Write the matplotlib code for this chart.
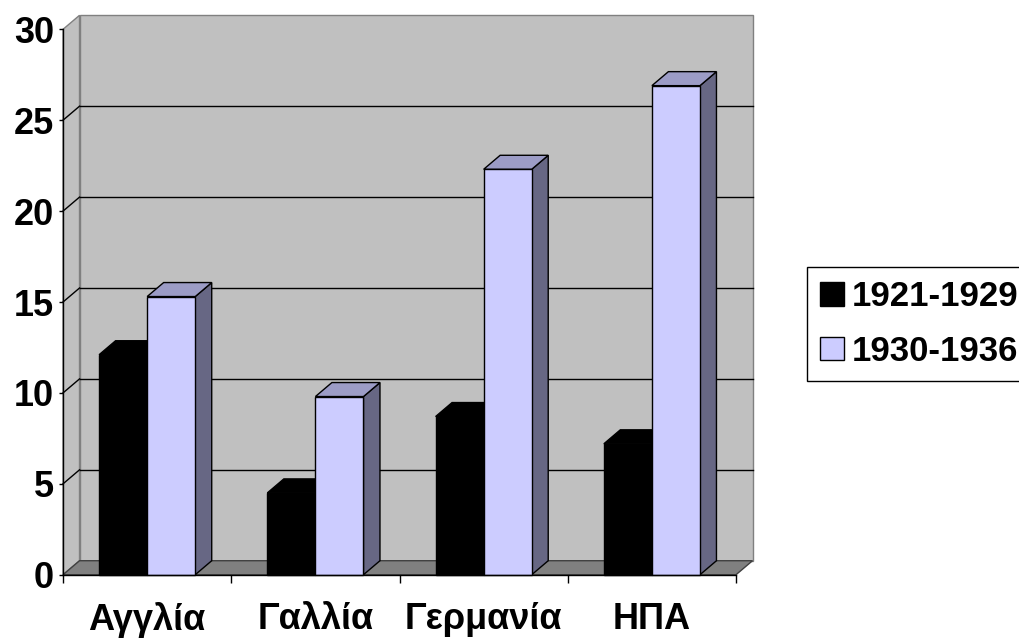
import matplotlib.pyplot as plt
from matplotlib.patches import Polygon, Rectangle, Patch
import numpy as np

countries = ['Αγγλία', 'Γαλλία', 'Γερμανία', 'ΗΠΑ']
periods = ['1921-1929', '1930-1936']
vals_1921_1929 = [12.1, 4.5, 8.7, 7.2]
vals_1930_1936 = [15.3, 9.8, 22.3, 26.9]
y_ticks = [0, 5, 10, 15, 20, 25, 30]

# front, top, side shades for each series
shades = [('#000000', '#000000', '#000000'),
          ('#ccccff', '#9c9cc6', '#676784')]

plt.rcParams['font.family'] = ['Liberation Sans', 'DejaVu Sans']
plt.rcParams['font.weight'] = 'bold'

fig = plt.figure(figsize=(10.2, 6.41), dpi=100)
ax = fig.add_axes([0.0618, 0.1034, 0.6598, 0.8509])
n = len(countries)
ymax = y_ticks[-1]
ax.set_xlim(0, n)
ax.set_ylim(0, ymax)
ax.patch.set_visible(False)

# depth of the 3d box in data units
dx, dy = 0.098, 0.77
wall = '#c0c0c0'
wall_edge = '#808080'

# back wall, side wall, floor
ax.add_patch(Rectangle((dx, dy), n, ymax, fc=wall, ec=wall_edge, lw=1,
                       clip_on=False, zorder=0.5))
ax.add_patch(Polygon([(0, 0), (dx, dy), (dx, ymax + dy), (0, ymax)],
                     fc=wall, ec=wall_edge, lw=1, clip_on=False, zorder=0.6))
ax.add_patch(Polygon([(0, 0), (n, 0), (n + dx, dy), (dx, dy)],
                     fc='#808080', ec='#404040', lw=1, clip_on=False, zorder=0.6))

# gridlines on back and side walls
for v in y_ticks[1:-1]:
    ax.plot([dx, n + dx], [v + dy, v + dy], color='black', lw=1, zorder=0.8,
            clip_on=False)
    ax.plot([0, dx], [v, v + dy], color='black', lw=1, zorder=0.8,
            clip_on=False)

# columns: gap width 150% -> two bars + 1.5 bar of gap per category
w = 1 / 3.5
for s, vals in enumerate([vals_1921_1929, vals_1930_1936]):
    front, top, side = shades[s]
    for i, h in enumerate(vals):
        x0 = i + 0.75 * w + s * w
        z = 1 + i * 0.1 + s * 0.01
        ax.add_patch(Polygon([(x0 + w, 0), (x0 + w + dx, dy),
                              (x0 + w + dx, h + dy), (x0 + w, h)],
                             fc=side, ec='black', lw=1, clip_on=False, zorder=z))
        ax.add_patch(Polygon([(x0, h), (x0 + w, h), (x0 + w + dx, h + dy),
                              (x0 + dx, h + dy)],
                             fc=top, ec='black', lw=1, clip_on=False, zorder=z))
        ax.add_patch(Rectangle((x0, 0), w, h, fc=front, ec='black', lw=1,
                               clip_on=False, zorder=z + 0.005))

for sp in ['top', 'right']:
    ax.spines[sp].set_visible(False)
for sp in ['left', 'bottom']:
    ax.spines[sp].set_color('black')
    ax.spines[sp].set_linewidth(1)
    ax.spines[sp].set_zorder(3)

ax.set_yticks(y_ticks)
ax.tick_params(axis='y', length=3, width=1, pad=3.6, labelsize=26)
ax.set_xticks(range(n + 1))
ax.set_xticklabels([])
ax.set_xticks(np.arange(n) + 0.5, minor=True)
ax.set_xticklabels(countries, minor=True)
ax.tick_params(axis='x', which='major', length=6, width=1)
ax.tick_params(axis='x', which='minor', length=0, pad=20, labelsize=26)

handles = [Patch(fc=shades[0][0], ec='black', lw=1),
           Patch(fc=shades[1][0], ec='black', lw=1)]
leg = fig.legend(handles, periods, loc='upper left',
                 bbox_to_anchor=(807 / 1020, 1 - 267 / 641),
                 fontsize=25, frameon=True, fancybox=False, framealpha=1,
                 edgecolor='black', handlelength=0.68, handleheight=0.68,
                 handletextpad=0.22, borderpad=0.38, labelspacing=0.62,
                 borderaxespad=0)
leg.get_frame().set_linewidth(1)

fig.savefig('out.png', dpi=100)
